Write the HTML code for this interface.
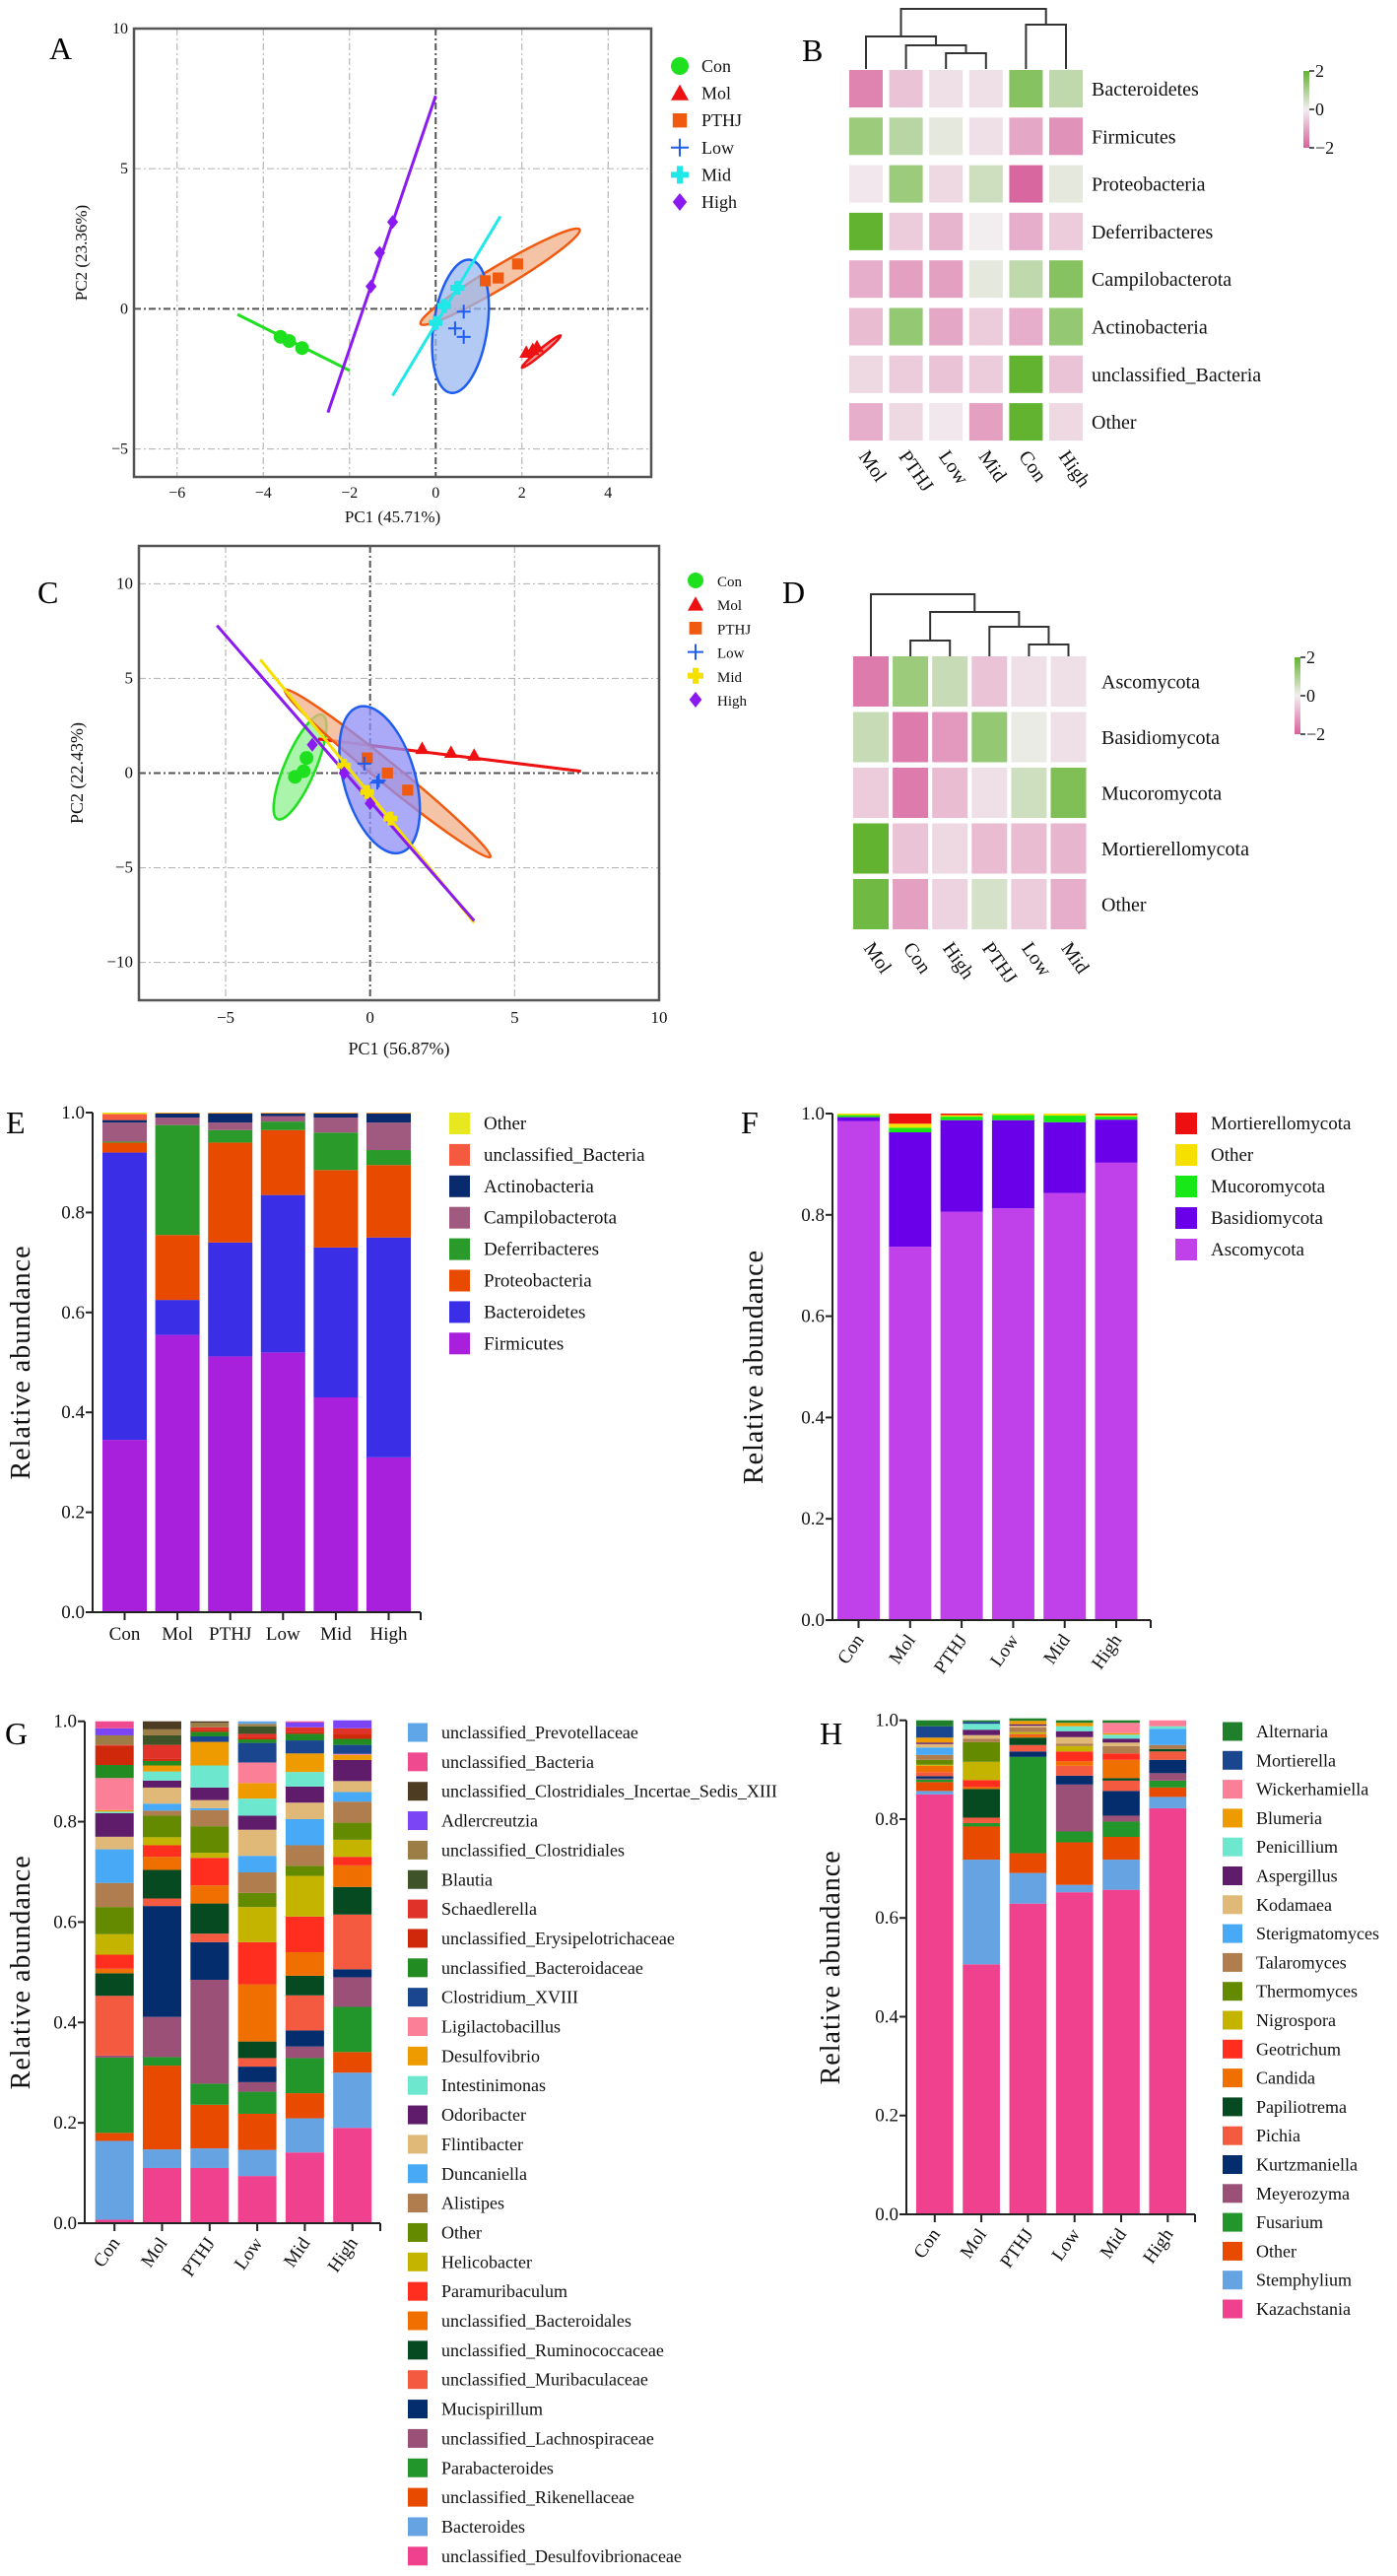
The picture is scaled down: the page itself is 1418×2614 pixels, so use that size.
<!DOCTYPE html>
<html><head><meta charset="utf-8">
<style>
html,body{margin:0;padding:0;background:#fff;}
svg{display:block;font-family:"Liberation Serif",serif;}
</style></head>
<body>
<svg id="fig" xmlns="http://www.w3.org/2000/svg" width="1418" height="2614" viewBox="0 0 1418 2614">
<rect x="0" y="0" width="1418" height="2614" fill="#fff"/>
<defs>
<linearGradient id="cbar" x1="0" y1="0" x2="0" y2="1">
<stop offset="0" stop-color="#62b32f"/><stop offset="0.5" stop-color="#f2eef0"/><stop offset="1" stop-color="#d8609b"/>
</linearGradient>
</defs>
<text x="50" y="60" font-size="32">A</text>
<text x="814" y="62" font-size="32">B</text>
<text x="38" y="612" font-size="32">C</text>
<text x="794" y="612" font-size="32">D</text>
<text x="6" y="1150" font-size="32">E</text>
<text x="752" y="1150" font-size="32">F</text>
<text x="5" y="1770" font-size="32">G</text>
<text x="832" y="1770" font-size="32">H</text>
</svg>
<script>
// ---------- DATA ----------
const groups = ['Con','Mol','PTHJ','Low','Mid','High'];
// Panel A PCA points
const aPtsX = [[-3.6,-3.4,-3.1],[2.1,2.25,2.35],[1.15,1.45,1.9],[0.65,0.45,0.65],[0,0.2,0.5],[-1.5,-1.3,-1.0]];
const aPtsY = [[-1.0,-1.15,-1.4],[-1.55,-1.45,-1.35],[1.0,1.1,1.6],[-0.1,-0.7,-1.0],[-0.5,0.1,0.75],[0.8,2.0,3.1]];
// Panel A group shapes: [x1,y1,x2,y2,ratio] ratio=0 means line
const aShapes = [[-4.6,-0.2,-2.0,-2.2,0],[2.0,-2.1,2.9,-0.95,0.1],[-0.35,-0.54,3.34,2.83,0.12],[0.8,1.75,0.35,-3.0,0.4],[-1.0,-3.1,1.5,3.3,0],[-2.5,-3.7,0,7.6,0]];
// Panel C PCA points
const cPtsX = [[-2.2,-2.3,-2.6],[1.8,2.8,3.6],[-0.1,0.6,1.3],[-0.2,0.3,0.25],[-0.9,-0.1,0.7],[-2.0,-0.9,0]];
const cPtsY = [[0.8,0.1,-0.2],[1.3,1.1,0.95],[0.8,0,-0.9],[0.5,-0.4,-0.5],[0.4,-1.0,-2.4],[1.5,0,-1.6]];
const cShapes = [[-3.2,-2.43,-1.65,3.07,0.27],[-1.8,1.8,7.3,0.1,0],[-2.95,4.4,4.16,-4.43,0.08],[-0.4,3.5,1.06,-4.2,0.47],[-3.8,6.0,3.6,-7.9,0],[-5.3,7.8,3.6,-7.8,0]];
const aTicksX = [-6,-4,-2,0,2,4], aTicksY = [-5,0,5,10];
const cTicksX = [-5,0,5,10], cTicksY = [-10,-5,0,5,10];
// Panel B heatmap
const bCols = ['Mol','PTHJ','Low','Mid','Con','High'];
const bRows = ['Bacteroidetes','Firmicutes','Proteobacteria','Deferribacteres','Campilobacterota','Actinobacteria','unclassified_Bacteria','Other'];
const bVals = [
 [-1.5,-0.6,-0.2,-0.2,1.5,0.7],
 [1.2,0.8,0.2,-0.2,-1.0,-1.3],
 [-0.1,1.2,-0.3,0.5,-1.9,0.2],
 [2.0,-0.5,-0.8,0,-0.9,-0.5],
 [-0.9,-1.1,-1.1,0.2,0.7,1.5],
 [-0.7,1.3,-1.0,-0.5,-0.9,1.3],
 [-0.3,-0.5,-0.6,-0.5,2.0,-0.6],
 [-0.9,-0.3,-0.1,-1.1,2.0,-0.3]];
const bMerges = [[2,3,54],[1,6,46],[0,7,37],[4,5,25],[8,9,9]];
// Panel D heatmap
const dCols = ['Mol','Con','High','PTHJ','Low','Mid'];
const dRows = ['Ascomycota','Basidiomycota','Mucoromycota','Mortierellomycota','Other'];
const dVals = [
 [-1.6,1.2,0.6,-0.6,-0.2,-0.2],
 [0.6,-1.6,-1.2,1.3,0.1,-0.2],
 [-0.5,-1.6,-0.7,-0.2,0.5,1.6],
 [2.0,-0.6,-0.3,-0.7,-0.7,-0.8],
 [1.8,-1.1,-0.4,0.4,-0.5,-0.9]];
const dMerges = [[1,2,650],[4,5,654],[3,7,636],[6,8,621],[0,9,603]];
// Panel E (bottom -> top)
const eSeries = ['Firmicutes','Bacteroidetes','Proteobacteria','Deferribacteres','Campilobacterota','Actinobacteria','unclassified_Bacteria','Other'];
const eVals = [
 [0.345,0.555,0.512,0.52,0.43,0.31],
 [0.575,0.07,0.228,0.315,0.30,0.44],
 [0.02,0.13,0.20,0.13,0.155,0.145],
 [0.002,0.22,0.025,0.017,0.075,0.03],
 [0.038,0.015,0.015,0.011,0.03,0.055],
 [0.005,0.008,0.018,0.005,0.008,0.018],
 [0.012,0.001,0.001,0.001,0.001,0.001],
 [0.003,0.001,0.001,0.001,0.001,0.001]];
// Panel F (bottom -> top)
const fSeries = ['Ascomycota','Basidiomycota','Mucoromycota','Other','Mortierellomycota'];
const fVals = [
 [0.985,0.737,0.806,0.813,0.843,0.903],
 [0.008,0.226,0.181,0.174,0.14,0.085],
 [0.004,0.009,0.007,0.01,0.013,0.006],
 [0.003,0.008,0.003,0.003,0.004,0.003],
 [0,0.02,0.003,0,0,0.003]];
// Panel G (bottom -> top)
const gSeries = ['unclassified_Desulfovibrionaceae','Bacteroides','unclassified_Rikenellaceae','Parabacteroides','unclassified_Lachnospiraceae','Mucispirillum','unclassified_Muribaculaceae','unclassified_Ruminococcaceae','unclassified_Bacteroidales','Paramuribaculum','Helicobacter','Other','Alistipes','Duncaniella','Flintibacter','Odoribacter','Intestinimonas','Desulfovibrio','Ligilactobacillus','Clostridium_XVIII','unclassified_Bacteroidaceae','unclassified_Erysipelotrichaceae','Schaedlerella','Blautia','unclassified_Clostridiales','Adlercreutzia','unclassified_Clostridiales_Incertae_Sedis_XIII','unclassified_Bacteria','unclassified_Prevotellaceae'];
const gVals = [
 [.007,.11,.11,.094,.141,.19],
 [.157,.037,.039,.052,.068,.11],
 [.016,.167,.087,.072,.05,.041],
 [.15,.017,.042,.044,.07,.09],
 [.004,.08,.207,.019,.023,.059],
 [0,.221,.075,.031,.032,.016],
 [.119,.015,.017,.017,.07,.109],
 [.045,.057,.06,.033,.039,.055],
 [.009,.026,.036,.114,.047,.043],
 [.028,.023,.055,.084,.071,.017],
 [.041,.016,.01,.07,.081,.034],
 [.054,.043,.053,.028,.02,.034],
 [.048,.01,.032,.041,.041,.042],
 [.067,.014,.004,.033,.052,.019],
 [.025,.032,.016,.052,.033,.022],
 [.047,.014,.025,.028,.032,.042],
 [.003,.018,.044,.034,.029,0],
 [.003,.012,.047,.031,.037,.01],
 [.064,0,0,.041,0,.002],
 [0,0,.011,.039,.026,.018],
 [.026,.009,.009,.007,.013,.012],
 [.038,.004,.004,.003,.003,.01],
 [.002,.028,.005,.008,.01,.011],
 [0,.019,0,.015,0,0],
 [.019,.012,.009,.005,0,0],
 [.014,0,0,0,.01,.016],
 [0,.016,.003,0,0,0],
 [.014,0,0,0,.002,0],
 [0,0,0,.005,0,0]];
// Panel H (bottom -> top)
const hSeries = ['Kazachstania','Stemphylium','Other','Fusarium','Meyerozyma','Kurtzmaniella','Pichia','Papiliotrema','Candida','Geotrichum','Nigrospora','Thermomyces','Talaromyces','Sterigmatomyces','Kodamaea','Aspergillus','Penicillium','Blumeria','Wickerhamiella','Mortierella','Alternaria'];
const hVals = [
 [.85,.506,.629,.652,.657,.822],
 [.007,.212,.062,.015,.061,.023],
 [.018,.067,.04,.086,.046,.019],
 [.005,.007,.195,.022,.031,.014],
 [.002,0,0,.095,.012,.015],
 [.005,0,.011,.018,.05,.027],
 [.008,.011,.013,.02,.021,.017],
 [0,.058,.015,0,.005,.005],
 [.013,.004,.005,.009,.037,0],
 [0,.014,.002,.02,.013,0],
 [.002,.037,.004,.011,0,0],
 [.01,.04,0,0,0,0],
 [.01,.007,.01,.005,.015,.008],
 [.015,0,0,0,0,.033],
 [.007,.007,.003,.013,.007,0],
 [.003,.011,.003,.012,.008,0],
 [0,.012,0,.01,.008,.005],
 [.01,0,.007,.007,.003,0],
 [0,0,0,0,.021,.012],
 [.023,.004,0,0,0,0],
 [.012,.003,.005,.005,.005,0]];
const stackTicks = [0,0.2,0.4,0.6,0.8,1.0];

// ---------- STYLE ----------
const pcaColA = ['#1ee01e','#ee1111','#f05a10','#1f5cf0','#20e8e8','#8a1af0'];
const pcaColC = ['#1ee01e','#ee1111','#f05a10','#1f5cf0','#f5e000','#8a1af0'];
const pcaFillA = ['#8ff08f','#f07070','#f2b088','#9ab8f0','#a0f0f0','#c090f0'];
const pcaFillC = ['#8ff08f','#f07070','#f2b088','#8e8ef5','#f8f080','#c090f0'];
const shapesA = ['circle','triangle','square','plus','fatplus','diamond'];
const eColors = ['#a820dc','#3a2ee6','#e84a00','#2a9a2a','#a05a80','#0a2a6e','#f55a40','#e8e820'];
const fColors = ['#c040ea','#6a00ea','#18e818','#f5e000','#ee1010'];
const gColors = ['#f0418f','#66a3e3','#e84a00','#22962a','#9b5077','#042d6e','#f45a40','#054a20','#ef7000','#ff2e1e','#c4b400','#648a00','#b07d4e','#48a9f6','#e0b878','#5e1c6a','#6de8cf','#ee9b00','#fb8097','#1a4690','#228b22','#d0280a','#e03228','#3f5328','#9c7d45','#7b45f5','#4d3c22','#ef4a8f','#5fa6e8'];
const hColors = ['#f0418f','#66a3e3','#e84a00','#22962a','#9b5077','#042d6e','#f45a40','#054a20','#ef7000','#ff2e1e','#c4b400','#648a00','#b07d4e','#48a9f6','#e0b878','#5e1c6a','#6de8cf','#ee9b00','#fb8097','#1a4690','#1f7f2a'];

const NS='http://www.w3.org/2000/svg';
const svg=document.getElementById('fig');
function mk(tag,attrs,parent){const e=document.createElementNS(NS,tag);for(const k in attrs)e.setAttribute(k,attrs[k]);(parent||svg).appendChild(e);return e;}
function txt(str,x,y,size,anchor,parent,rot){const t=mk('text',{x:x,y:y,'font-size':size,'text-anchor':anchor||'start',fill:'#111'},parent);if(rot)t.setAttribute('transform','rotate('+rot+' '+x+' '+y+')');t.textContent=str;return t;}
function lin(d0,d1,r0,r1){return v=>r0+(v-d0)*(r1-r0)/(d1-d0);}
function mix(a,b,t){const pa=[1,3,5].map(i=>parseInt(a.substr(i,2),16)),pb=[1,3,5].map(i=>parseInt(b.substr(i,2),16));return 'rgb('+pa.map((v,i)=>Math.round(v+(pb[i]-v)*t)).join(',')+')';}
function heatColor(v){const t=Math.max(-2,Math.min(2,v))/2;return t>=0?mix('#f2eef0','#62b32f',t):mix('#f2eef0','#d8609b',-t);}

function marker(shape,x,y,s,color,parent){
  let e;
  if(shape==='circle') e=mk('circle',{cx:x,cy:y,r:s,fill:color},parent);
  else if(shape==='triangle') e=mk('polygon',{points:(x)+','+(y-s)+' '+(x+s)+','+(y+s*0.8)+' '+(x-s)+','+(y+s*0.8),fill:color},parent);
  else if(shape==='square') e=mk('rect',{x:x-s*0.8,y:y-s*0.8,width:s*1.6,height:s*1.6,fill:color},parent);
  else if(shape==='diamond') e=mk('polygon',{points:x+','+(y-s)+' '+(x+s*0.8)+','+y+' '+x+','+(y+s)+' '+(x-s*0.8)+','+y,fill:color},parent);
  else if(shape==='plus') e=mk('path',{d:'M'+(x-s)+' '+y+'H'+(x+s)+'M'+x+' '+(y-s)+'V'+(y+s),stroke:color,'stroke-width':2,fill:'none'},parent);
  else e=mk('path',{d:'M'+(x-s)+' '+y+'H'+(x+s)+'M'+x+' '+(y-s)+'V'+(y+s),stroke:color,'stroke-width':6,fill:'none'},parent);
  return e;
}

function pcaPanel(cfg){
  const g=mk('g',{});
  
  
  const sx=lin(cfg.xd[0],cfg.xd[1],cfg.x0,cfg.x1), sy=lin(cfg.yd[0],cfg.yd[1],cfg.y0,cfg.y1);
  // grid
  cfg.tx.forEach(v=>{const l=mk('line',{x1:sx(v),x2:sx(v),y1:cfg.y1,y2:cfg.y0,stroke:v===0?'#555':'#b8b8b8','stroke-width':v===0?2:1.2,'stroke-dasharray':'7,3,2,3'},g);
    
    
    const t=txt(String(v).replace('-','−'),sx(v),cfg.xlabY,cfg.tick,'middle',g);
    
    });
  cfg.ty.forEach(v=>{const l=mk('line',{x1:cfg.x0,x2:cfg.x1,y1:sy(v),y2:sy(v),stroke:v===0?'#555':'#b8b8b8','stroke-width':v===0?2:1.2,'stroke-dasharray':'7,3,2,3'},g);
    
    
    const t=txt(String(v).replace('-','−'),cfg.x0-6,sy(v)+5,cfg.tick,'end',g);
    
    });
  const fr=mk('rect',{x:cfg.x0,y:cfg.y1,width:cfg.x1-cfg.x0,height:cfg.y0-cfg.y1,fill:'none',stroke:'#555','stroke-width':2.5},g);
  
  
  // shapes
  cfg.shapes.forEach((s,i)=>{
    const x1=sx(s[0]),y1=sy(s[1]),x2=sx(s[2]),y2=sy(s[3]);
    let e;
    if(s[4]===0){e=mk('line',{x1:x1,y1:y1,x2:x2,y2:y2,stroke:cfg.cols[i],'stroke-width':3},g);}
    else{const cx=(x1+x2)/2,cy=(y1+y2)/2,L=Math.hypot(x2-x1,y2-y1)/2,ang=Math.atan2(y2-y1,x2-x1)*180/Math.PI;
      e=mk('ellipse',{cx:cx,cy:cy,rx:L,ry:L*s[4],fill:cfg.fills[i],'fill-opacity':0.75,stroke:cfg.cols[i],'stroke-width':2.5,transform:'rotate('+ang+' '+cx+' '+cy+')'},g);}
    
    
  });
  cfg.px.forEach((arr,i)=>arr.forEach((v,j)=>{
    const m=marker(shapesA[i],sx(v),sy(cfg.py[i][j]),cfg.ms,cfg.cols[i],g);
    
    
  }));
  const xl=txt(cfg.xlab,(cfg.x0+cfg.x1)/2,cfg.xtitleY,cfg.tick+1,'middle',g);
  
  
  const yl=txt(cfg.ylab,cfg.ytitleX,(cfg.y0+cfg.y1)/2,cfg.tick+1,'middle',g,-90);
  
  
  groups.forEach((n,i)=>{
    const y=cfg.legY0+i*cfg.legDy;
    const m=marker(shapesA[i],cfg.legX,y,cfg.lms,cfg.cols[i],g);
    
    
    const t=txt(n,cfg.legX+22,y+6,cfg.legFont,'start',g);
    
    
  });
}

pcaPanel({name:'pca-plot-a',xd:[-7,5],yd:[-6,10],x0:136,x1:661,y0:484,y1:29,tx:aTicksX,ty:aTicksY,xlabY:505,tick:16,
  shapes:aShapes,px:aPtsX,py:aPtsY,cols:pcaColA,fills:pcaFillA,ms:7,xlab:'PC1 (45.71%)',xtitleY:530,ylab:'PC2 (23.36%)',ytitleX:88,
  legX:690,legY0:67,legDy:27.6,lms:9,legFont:18});
pcaPanel({name:'pca-plot-c',xd:[-8,10],yd:[-12,12],x0:141,x1:669,y0:1015,y1:554,tx:cTicksX,ty:cTicksY,xlabY:1038,tick:17,
  shapes:cShapes,px:cPtsX,py:cPtsY,cols:pcaColC,fills:pcaFillC,ms:7,xlab:'PC1 (56.87%)',xtitleY:1070,ylab:'PC2 (22.43%)',ytitleX:84,
  legX:706,legY0:589,legDy:24.2,lms:8,legFont:15});

function heatmap(cfg){
  const g=mk('g',{});
  
  
  const cx=i=>cfg.x0+cfg.cw/2+i*cfg.px;
  cfg.vals.forEach((row,r)=>row.forEach((v,c)=>{
    const rc=mk('rect',{x:cx(c)-cfg.cw/2,y:cfg.y0+r*cfg.py,width:cfg.cw,height:cfg.ch,fill:heatColor(v)},g);
    
    
  }));
  cfg.rows.forEach((n,r)=>{const t=txt(n,cfg.labX,cfg.y0+r*cfg.py+cfg.ch/2+7,20,'start',g);
    
    });
  cfg.cols.forEach((n,c)=>{const t=txt(n,cx(c)-8,cfg.colY,20,'start',g,55);
    
    });
  // dendrogram
  const nx=cfg.cols.map((_,i)=>cx(i)), ny=cfg.cols.map(()=>cfg.leafY);
  cfg.merges.forEach(m=>{
    const a=m[0],b=m[1],h=m[2];
    const p=mk('path',{d:'M'+nx[a]+' '+ny[a]+'V'+h+'H'+nx[b]+'V'+ny[b],fill:'none',stroke:'#333','stroke-width':2},g);
    
    
    nx.push((nx[a]+nx[b])/2);ny.push(h);
  });
  const cb=mk('rect',{x:cfg.cbX,y:cfg.cbY,width:6,height:cfg.cbH,fill:'url(#cbar)'},g);
  
  
  [['2',0],['0',0.5],['−2',1]].forEach(([l,f])=>{
    const y=cfg.cbY+f*cfg.cbH;
    const tk=mk('line',{x1:cfg.cbX+6,x2:cfg.cbX+11,y1:y,y2:y,stroke:'#222','stroke-width':1.5},g);
    
    
    const t=txt(l,cfg.cbX+12,y+6,18,'start',g);
    
    
  });
}
heatmap({name:'heatmap-b',vals:bVals,rows:bRows,cols:bCols,merges:bMerges,x0:862,cw:34,px:40.6,y0:71,py:48.3,ch:38,labX:1108,colY:463,leafY:70,cbX:1323,cbY:72,cbH:78});
heatmap({name:'heatmap-d',vals:dVals,rows:dRows,cols:dCols,merges:dMerges,x0:866,cw:36,px:40.1,y0:666,py:56.5,ch:51,labX:1118,colY:962,leafY:666,cbX:1314,cbY:667,cbH:78});

function stacked(cfg){
  const g=mk('g',{});
  
  
  const sy=lin(0,1,cfg.y0,cfg.y1);
  const cx=i=>cfg.c0+i*cfg.pitch;
  groups.forEach((cat,c)=>{
    let acc=0;
    cfg.vals.forEach((ser,s)=>{
      const v=Math.max(0,ser[c]);
      if(v>0){
        const r=mk('rect',{x:cx(c)-cfg.bw/2,y:sy(acc+v),width:cfg.bw,height:sy(acc)-sy(acc+v),fill:cfg.colors[s]},g);
        
        
      }
      acc+=v;
    });
  });
  const ax=mk('path',{d:'M'+cfg.ax0+' '+cfg.y1+'V'+cfg.y0+'H'+cfg.ax1,fill:'none',stroke:'#222','stroke-width':2},g);
  
  
  stackTicks.forEach(v=>{
    const tk=mk('line',{x1:cfg.ax0-7,x2:cfg.ax0,y1:sy(v),y2:sy(v),stroke:'#222','stroke-width':2},g);
    
    
    const t=txt(v.toFixed(1),cfg.ax0-8,sy(v)+6,19,'end',g);
    
    
  });
  groups.forEach((cat,c)=>{
    const tk=mk('line',{x1:cx(c),x2:cx(c),y1:cfg.y0,y2:cfg.y0+8,stroke:'#222','stroke-width':2},g);
    
    
    let t;
    if(cfg.rot) t=txt(cat,cx(c)+6,cfg.y0+20,19,'end',g,-55);
    else t=txt(cat,cx(c),cfg.y0+28,19,'middle',g);
    
    
  });
  const et=mk('line',{x1:cfg.ax1,x2:cfg.ax1,y1:cfg.y0,y2:cfg.y0+8,stroke:'#222','stroke-width':2},g);
  
  
  const yl=txt('Relative abundance',cfg.ylabX,(cfg.y0+cfg.y1)/2,28,'middle',g,-90);
  yl.setAttribute('letter-spacing','1');
  
  
  // legend (top entry = last series)
  const n=cfg.series.length;
  for(let k=0;k<n;k++){
    const s=n-1-k, y=cfg.legY0+k*cfg.legDy;
    const sw=mk('rect',{x:cfg.legX,y:y-cfg.swH/2,width:cfg.swW,height:cfg.swH,fill:cfg.colors[s]},g);
    
    
    const t=txt(cfg.series[s],cfg.legX+cfg.swW+14,y+6,cfg.legFont,'start',g);
    
    
  }
}
stacked({name:'stacked-bar-e',vals:eVals,series:eSeries,colors:eColors,y0:1636,y1:1129,c0:126.5,pitch:53.6,bw:45,ax0:94,ax1:427,rot:false,ylabX:30,legX:456,legY0:1140,legDy:31.9,swW:21,swH:22,legFont:19});
stacked({name:'stacked-bar-f',vals:fVals,series:fSeries,colors:fColors,y0:1644,y1:1130,c0:871.5,pitch:52.3,bw:43,ax0:845,ax1:1168,rot:true,ylabX:774,legX:1193,legY0:1140,legDy:32,swW:22,swH:22,legFont:19});
stacked({name:'stacked-bar-g',vals:gVals,series:gSeries,colors:gColors,y0:2256,y1:1746.7,c0:116.2,pitch:48.3,bw:39,ax0:86,ax1:386,rot:true,ylabX:30,legX:414,legY0:1758,legDy:29.85,swW:20,swH:19,legFont:18});
stacked({name:'stacked-bar-h',vals:hVals,series:hSeries,colors:hColors,y0:2247,y1:1745.7,c0:948.8,pitch:47.3,bw:37.7,ax0:920,ax1:1213,rot:true,ylabX:852,legX:1241,legY0:1757,legDy:29.3,swW:20,swH:19,legFont:18});
</script>
</body></html>
